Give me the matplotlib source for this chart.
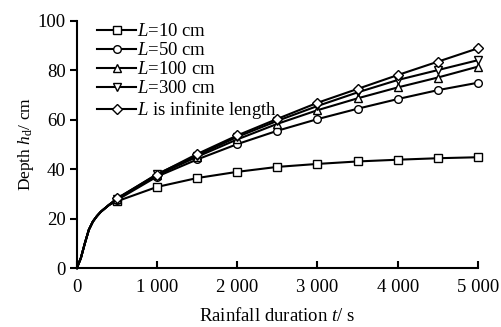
import matplotlib
matplotlib.use("Agg")
import matplotlib.pyplot as plt

plt.rcParams['font.family'] = ['Liberation Serif', 'DejaVu Serif']
plt.rcParams['mathtext.fontset'] = 'custom'
plt.rcParams['mathtext.rm'] = 'Liberation Serif'
plt.rcParams['mathtext.it'] = 'Liberation Serif:italic'

# shared early part of every curve (no markers before 500 s)
t_early = [0, 50, 100, 150, 200, 250, 300, 400]
h_early = [0, 4.0, 10.0, 15.5, 18.8, 21.0, 22.8, 25.5]

# marker positions
t_marks = [500, 1000, 1500, 2000, 2500, 3000, 3500, 4000, 4500, 5000]
h_L10 = [27.0, 32.8, 36.4, 38.9, 40.9, 42.1, 43.1, 43.8, 44.4, 44.8]
h_L50 = [27.5, 37.0, 43.9, 50.1, 55.5, 60.2, 64.4, 68.3, 71.9, 74.9]
h_L100 = [28.0, 37.5, 45.0, 52.0, 58.3, 63.8, 68.6, 73.0, 77.0, 81.4]
h_L300 = [28.0, 38.0, 45.5, 53.0, 59.5, 65.5, 71.0, 76.0, 80.0, 84.0]
h_inf = [28.2, 37.8, 46.1, 53.6, 60.3, 66.8, 72.4, 78.0, 83.4, 88.8]

labels = ['$L$=10 cm', '$L$=50 cm', '$L$=100 cm', '$L$=300 cm', '$L$ is infinite length']
markers = ['s', 'o', '^', 'v', 'D']
series = [h_L10, h_L50, h_L100, h_L300, h_inf]

x_ticks = [0, 1000, 2000, 3000, 4000, 5000]
x_ticklabels = ['0', '1 000', '2 000', '3 000', '4 000', '5 000']
y_ticks = [0, 20, 40, 60, 80, 100]

fig = plt.figure(figsize=(5.02, 3.27), dpi=100)
ax = fig.add_axes([0.153, 0.180, 0.799, 0.757])

n0 = len(t_early)
for h, m, lab in zip(series, markers, labels):
    t = t_early + t_marks
    y = h_early + h
    ms = 5.0 if m == 'D' else 5.5
    ax.plot(t, y, color='black', lw=1.5, marker=m, ms=ms, mfc='white',
            mec='black', mew=1.0, markevery=list(range(n0, len(t))),
            label=lab, clip_on=False, zorder=3)

ax.set_xlim(0, 5000)
ax.set_ylim(0, 100)
ax.set_xticks(x_ticks)
ax.set_xticklabels(x_ticklabels)
ax.set_yticks(y_ticks)
ax.spines['top'].set_visible(False)
ax.spines['right'].set_visible(False)
for s in ['left', 'bottom']:
    ax.spines[s].set_linewidth(1.5)
ax.tick_params(axis='x', direction='in', length=5, width=1.5, labelsize=13.5, pad=8)
ax.tick_params(axis='y', direction='out', length=5, width=1.5, labelsize=13.5, pad=3)

ax.set_xlabel('Rainfall duration $t$/ s', fontsize=13.5, labelpad=8)
ax.set_ylabel('Depth $h_{\\mathrm{d}}$/ cm', fontsize=12.5, labelpad=1)

leg = ax.legend(loc='upper left', bbox_to_anchor=(0.05, 0.99), frameon=False,
                fontsize=13.5, handlelength=2.1, handletextpad=0.05,
                labelspacing=0.1, borderaxespad=0, borderpad=0)

fig.savefig('out.png', dpi=100)
